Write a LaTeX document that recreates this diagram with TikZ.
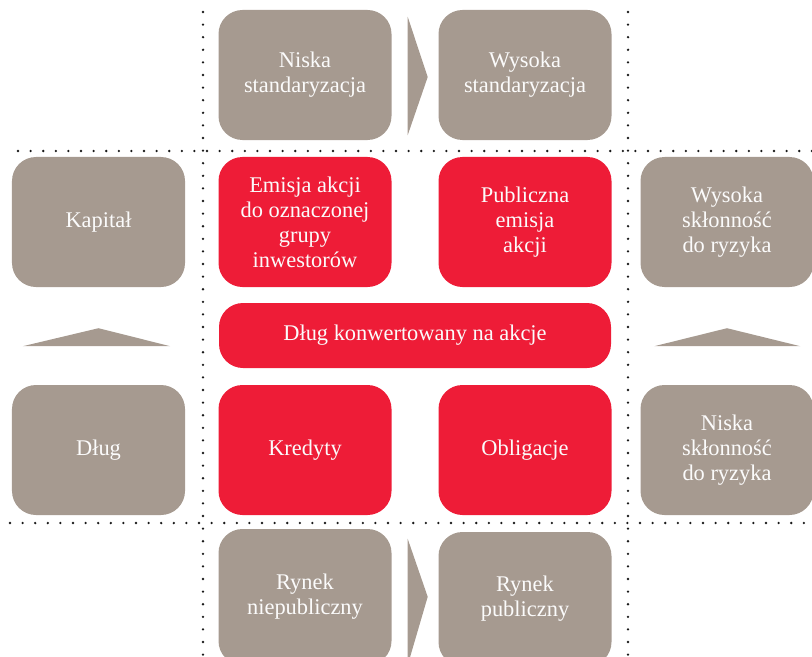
\documentclass[tikz,border=0pt]{standalone}
\usepackage{fontspec}
\setmainfont{Liberation Serif}
\usetikzlibrary{calc}
\definecolor{taupe}{HTML}{A69A90}
\definecolor{pwcred}{HTML}{EE1C37}
\begin{document}
\begin{tikzpicture}[x=1bp,y=-1bp,
	box/.style={rounded corners=24bp, minimum width=173bp, minimum height=130bp,
		text=white!96!taupe, align=center, inner sep=0pt,
		font=\fontsize{22.5}{25}\selectfont},
	graybox/.style={box, fill=taupe},
	redbox/.style={box, fill=pwcred},
	sep/.style={line width=2.6bp, line cap=round, dash pattern=on 0pt off 12.6bp, black!90}]
	
	\useasboundingbox (0,0) rectangle (812,657);
	
	% dotted separators
	\draw[sep] (203,12) -- (203,657);
	\draw[sep] (628,12) -- (628,657);
	\draw[sep] (18,151) -- (812,151);
	\draw[sep] (10,523) -- (812,523);
	
	% top row
	\node[graybox] (niska) at (305,75) {Niska\\standaryzacja};
	\node[graybox] (wysoka) at (525,75) {Wysoka\\standaryzacja};
	
	% left column
	\node[graybox] (kapital) at (98.5,222) {Kapitał};
	\node[graybox] (dlug) at (98.5,450) {Dług};
	
	% middle
	\node[redbox] (emisja) at (305,222) {Emisja akcji\\do oznaczonej\\grupy\\inwestorów};
	\node[redbox] (publiczna) at (525,222) {Publiczna\\emisja\\akcji};
	\node[redbox, minimum width=392bp, minimum height=65bp] (konw) at (415,335.5) {Dług konwertowany na akcje};
	\node[redbox] (kredyty) at (305,450) {Kredyty};
	\node[redbox] (oblig) at (525,450) {Obligacje};
	
	% right column
	\node[graybox] (wysryz) at (727,222) {Wysoka\\skłonność\\do ryzyka};
	\node[graybox] (niskryz) at (727,450) {Niska\\skłonność\\do ryzyka};
	
	% bottom row
	\node[graybox, minimum height=136bp] (niepub) at (305,597) {Rynek\\niepubliczny};
	\node[graybox, minimum height=134bp] (pub) at (525,599) {Rynek\\publiczny};
	
	% chevrons
	\fill[taupe] ($(niska.north east)+(16,7)$) -- ($(niska.east)+(36,2)$) -- ($(niska.south east)+(16,-5)$) -- cycle;
	\fill[taupe] ($(niepub.north east)+(16,10)$) -- ($(niepub.north east)+(36,68)$) -- ($(niepub.south east)+(16,0)$) -- cycle;
	\fill[taupe] ($(kapital.south west)+(11,59)$) -- ($(kapital.south)+(0,41)$) -- ($(kapital.south east)+(-15,59)$) -- cycle;
	\fill[taupe] ($(wysryz.south west)+(14,59)$) -- ($(wysryz.south)+(0,41)$) -- ($(wysryz.south west)+(160,59)$) -- cycle;
	
\end{tikzpicture}
\end{document}
